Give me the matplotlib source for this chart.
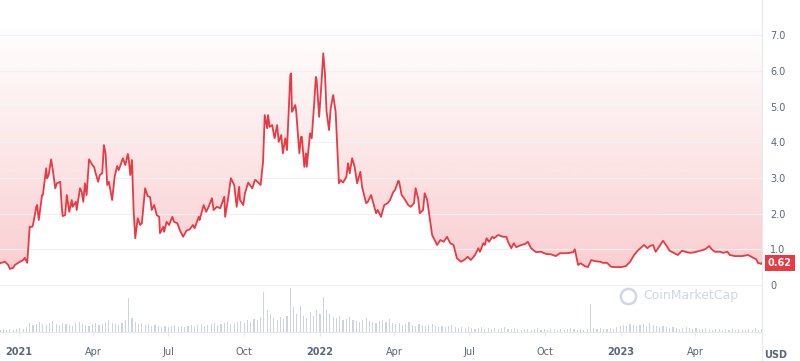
import datetime as dt
import numpy as np
import matplotlib.pyplot as plt
import matplotlib.dates as mdates
from matplotlib.lines import Line2D
from matplotlib.patches import Polygon

start = dt.date(2021, 1, 1)

# price, days counted from 2021-01-01
price_days = [-23, -17, -13, -11, -7, -5, -1, 5, 7, 10, 13, 16, 17, 21, 22, 24, 28, 29, 33, 34,
              36, 39, 41, 44, 46, 50, 52, 53, 56, 58, 61, 64, 65, 69, 70, 74, 76, 78, 80, 82,
              85, 89, 91, 93, 96, 98, 101, 103, 105, 107, 109, 113, 116, 119, 121, 126, 129, 132, 133, 135,
              137, 139, 141, 144, 147, 149, 153, 156, 159, 161, 164, 167, 170, 171, 175, 176, 179, 182, 186, 188,
              192, 195, 199, 203, 207, 211, 213, 218, 219, 224, 227, 230, 234, 236, 240, 244, 249, 250, 253, 257,
              261, 264, 267, 268, 272, 274, 278, 280, 283, 286, 287, 291, 293, 296, 298, 301, 302, 304, 307, 310,
              313, 315, 318, 320, 323, 325, 329, 330, 331, 335, 336, 340, 342, 343, 346, 348, 349, 353, 355, 358,
              360, 361, 364, 366, 369, 371, 373, 376, 378, 381, 384, 388, 390, 393, 397, 399, 401, 404, 407, 410,
              414, 416, 421, 423, 427, 433, 435, 439, 443, 447, 450, 454, 456, 460, 461, 464, 467, 472, 475, 479,
              481, 484, 486, 490, 492, 495, 497, 501, 503, 507, 511, 515, 519, 523, 527, 531, 536, 541, 544, 548,
              553, 557, 559, 563, 565, 567, 570, 574, 576, 581, 587, 591, 593, 597, 600, 603, 609, 614, 617, 621,
              627, 633, 639, 645, 651, 656, 662, 668, 672, 674, 675, 678, 681, 686, 690, 694, 698, 705, 708, 713,
              718, 724, 730, 736, 741, 746, 751, 755, 758, 762, 765, 769, 772, 775, 779, 781, 786, 789, 794, 799,
              804, 808, 814, 820, 826, 832, 837, 840, 844, 850, 854, 859, 862, 868, 877, 884, 889, 894, 896, 900,
              901]
price_usd = [0.61, 0.65, 0.56, 0.45, 0.48, 0.56, 0.62, 0.70, 0.76, 0.62, 1.63, 1.63, 1.68, 2.19, 2.24, 1.82, 2.52, 2.52, 3.27, 2.99,
             3.08, 3.52, 3.22, 2.71, 2.85, 2.89, 2.15, 1.93, 1.96, 2.52, 2.05, 2.38, 2.19, 2.33, 2.10, 2.71, 2.61, 2.33, 2.85, 2.52,
             3.52, 3.36, 3.31, 3.13, 2.89, 3.08, 3.13, 3.92, 3.69, 2.80, 2.89, 2.38, 3.03, 3.33, 3.22, 3.55, 3.36, 3.67, 3.55, 3.08,
             3.50, 2.10, 1.31, 1.87, 1.68, 1.73, 2.71, 2.49, 2.46, 2.10, 2.24, 1.96, 1.91, 1.45, 1.63, 1.49, 1.77, 1.68, 1.91, 1.77,
             1.73, 1.54, 1.35, 1.52, 1.56, 1.68, 1.59, 1.91, 1.82, 2.24, 2.05, 2.19, 2.43, 2.10, 2.19, 2.15, 2.47, 1.91, 2.33, 2.99,
             2.80, 2.19, 2.75, 2.38, 2.24, 2.57, 2.87, 2.80, 2.71, 2.94, 2.94, 2.85, 2.80, 3.45, 4.76, 4.39, 4.76, 4.43, 4.48, 4.11,
             4.48, 4.01, 4.20, 3.69, 4.11, 3.78, 5.88, 5.93, 4.85, 5.04, 4.90, 3.69, 4.15, 4.15, 3.31, 3.69, 3.31, 4.25, 4.11, 5.09,
             5.83, 5.74, 4.71, 5.37, 6.49, 5.93, 4.85, 4.34, 4.95, 5.32, 4.85, 2.85, 2.94, 2.87, 3.03, 3.41, 3.13, 3.55, 3.31, 2.85,
             3.17, 2.75, 2.29, 2.33, 2.52, 2.01, 2.10, 1.91, 2.24, 2.29, 2.38, 2.61, 2.66, 2.92, 2.89, 2.52, 2.43, 2.24, 2.19, 2.29,
             2.71, 2.43, 2.01, 2.10, 2.57, 2.38, 2.05, 1.40, 1.31, 1.12, 1.26, 1.21, 1.35, 1.17, 1.12, 0.75, 0.65, 0.72, 0.79, 0.70,
             0.84, 1.03, 0.93, 1.17, 1.12, 1.31, 1.21, 1.35, 1.31, 1.40, 1.35, 1.35, 1.21, 1.03, 1.17, 1.06, 1.12, 1.15, 1.21, 1.03,
             0.92, 0.93, 0.87, 0.86, 0.81, 0.89, 0.89, 0.90, 0.92, 1.00, 0.89, 0.56, 0.61, 0.53, 0.50, 0.70, 0.67, 0.65, 0.62, 0.62,
             0.51, 0.50, 0.50, 0.53, 0.65, 0.84, 0.98, 1.06, 1.12, 1.03, 1.09, 1.12, 0.93, 1.03, 1.17, 1.24, 1.07, 0.96, 0.90, 0.84,
             0.96, 0.93, 0.90, 0.92, 0.96, 1.00, 1.09, 1.00, 0.93, 0.93, 0.90, 0.93, 0.84, 0.81, 0.81, 0.84, 0.78, 0.72, 0.62, 0.59,
             0.62]

# traded volume, one bar every 4 days from day -23 (million USD)
vol_days = list(range(-23, 902, 4))
vol_musd = [2, 3, 2, 3, 2, 3, 4, 3, 5, 9, 7, 8, 10, 8, 7, 9, 11, 8, 7, 9,
            8, 7, 6, 9, 10, 8, 7, 6, 8, 9, 7, 8, 10, 12, 9, 8, 7, 9, 12, 34,
            14, 10, 8, 9, 7, 8, 6, 7, 6, 5, 6, 5, 6, 7, 5, 6, 5, 6, 7, 6,
            7, 8, 6, 7, 8, 9, 7, 8, 9, 10, 8, 9, 10, 11, 9, 12, 10, 13, 12, 15,
            40, 22, 18, 14, 12, 15, 13, 16, 44, 25, 18, 26, 16, 14, 20, 16, 22, 18, 35, 22,
            18, 15, 14, 16, 12, 13, 15, 12, 11, 10, 12, 14, 11, 10, 9, 11, 12, 10, 13, 9,
            8, 9, 7, 8, 10, 7, 6, 8, 7, 6, 7, 8, 6, 5, 6, 5, 6, 7, 5, 4,
            5, 4, 5, 4, 3, 4, 5, 3, 4, 3, 4, 3, 4, 5, 3, 3, 4, 3, 2, 3,
            3, 2, 3, 4, 2, 3, 2, 3, 3, 2, 3, 2, 3, 4, 3, 2, 3, 2, 3, 28,
            4, 3, 4, 3, 3, 4, 3, 5, 6, 7, 6, 8, 7, 6, 7, 8, 6, 9, 7, 6,
            5, 6, 5, 4, 5, 4, 3, 4, 5, 4, 3, 4, 3, 3, 4, 3, 2, 3, 3, 2,
            3, 2, 3, 2, 3, 2, 2, 3, 2, 4, 2, 3]

tick_dates = ['2021-01-01', '2021-04-01', '2021-07-01', '2021-10-01', '2022-01-01',
              '2022-04-01', '2022-07-01', '2022-10-01', '2023-01-01', '2023-04-01']
tick_labels = ['2021', 'Apr', 'Jul', 'Oct', '2022', 'Apr', 'Jul', 'Oct', '2023', 'Apr']
y_ticks = [0, 1, 2, 3, 4, 5, 6, 7]
y_labels = ['0', '1.0', '2.0', '3.0', '4.0', '5.0', '6.0', '7.0']

red = '#ea3943'
grey = '#58667e'

x = mdates.date2num([start + dt.timedelta(days=d) for d in price_days])
xv = mdates.date2num([start + dt.timedelta(days=d) for d in vol_days])
y = np.array(price_usd)

fig = plt.figure(figsize=(8, 3.61), dpi=100)
ax = fig.add_axes([0, 29 / 361, 762 / 800, 314 / 361])
ax2 = ax.twinx()
ymin, ymax = -1.317, 7.48
ax.set_xlim(x[0], x[-1])
ax.set_ylim(ymin, ymax)

# pink gradient above the line
grad = np.zeros((256, 1, 4))
rgb = np.array([234, 57, 67]) / 255
grad[:, 0, :3] = rgb
grad[:, 0, 3] = np.linspace(0.30, 0.0, 256) ** 1.1
im = ax.imshow(grad, extent=[x[0], x[-1], 0, ymax], origin='lower', aspect='auto', zorder=1)
poly = Polygon(np.column_stack([np.r_[x, x[-1], x[0]], np.r_[y, ymax, ymax]]),
               closed=True, transform=ax.transData, facecolor='none', edgecolor='none')
ax.add_patch(poly)
im.set_clip_path(poly)

ax.plot(x, y, color=red, lw=1.3, zorder=3)

ax.set_yticks(y_ticks)
ax.set_yticklabels(y_labels)
ax.yaxis.tick_right()
ax.tick_params(axis='y', length=0, pad=6, labelsize=7, labelcolor=grey)
ax.grid(axis='y', color='#eff2f5', lw=0.8, zorder=0)

ax.set_xticks(mdates.date2num([dt.date.fromisoformat(t) for t in tick_dates]))
ax.set_xticklabels(tick_labels)
ax.tick_params(axis='x', length=3, color='#e6e9ee', pad=8, labelsize=7, labelcolor=grey)
for lab in ax.get_xticklabels():
    if lab.get_text().startswith('20'):
        lab.set_fontweight('bold')

for s in ['top', 'left', 'right']:
    ax.spines[s].set_visible(False)
ax.spines['bottom'].set_color('#e6e9ee')

# volume bars
ax2.bar(xv, vol_musd, width=1.4, color='#cdd4df', zorder=2)
ax2.set_ylim(0, 314)
ax2.set_axis_off()

fig.add_artist(Line2D([762 / 800, 762 / 800], [0, 1], color='#e6e9ee', lw=0.8))

fig.text(780 / 800, 1 - 263 / 361, '0.62', color='white', fontsize=7, fontweight='bold',
         ha='center', va='center',
         bbox=dict(boxstyle='square,pad=0.35', facecolor=red, edgecolor='none'))
fig.text(776 / 800, 1 - 355 / 361, 'USD', color=grey, fontsize=7, fontweight='bold',
         ha='center', va='center')

# watermark
fig.add_artist(Line2D([628 / 800], [1 - 296 / 361], marker='o', markersize=11, markerfacecolor='none',
                      markeredgecolor='#cfd6e4', markeredgewidth=1.8))
fig.text(643 / 800, 1 - 296 / 361, 'CoinMarketCap', color='#cfd6e4', fontsize=9,
         ha='left', va='center')

fig.savefig('out.png', dpi=100)
